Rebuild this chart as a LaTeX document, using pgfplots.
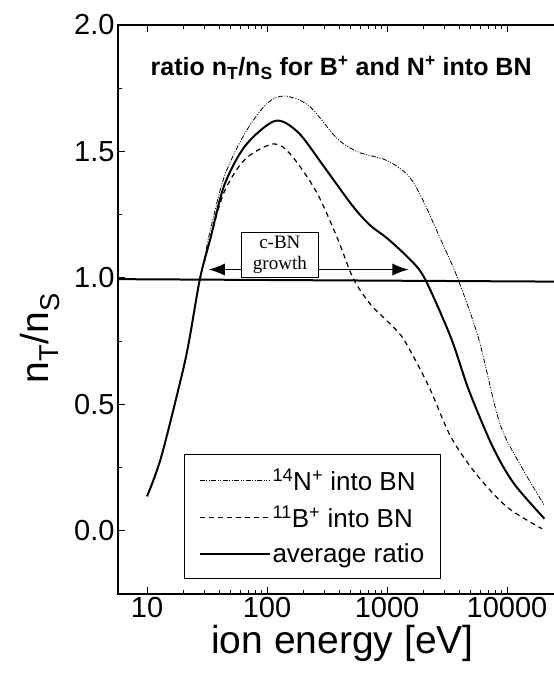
\documentclass[border=0pt]{standalone}
\usepackage{fontspec}
\setmainfont{Liberation Sans}
\newfontfamily\serifbox{Liberation Serif}
\usepackage{pgfplots}
\pgfplotsset{compat=1.18}
\usetikzlibrary{arrows.meta,calc}

% values (energy in eV, ratio n_T/n_S)
\pgfplotstableread{
E      r
30     1.07
33     1.17
44     1.40
66     1.575
100    1.69
141    1.719
224    1.68
386    1.55
580    1.497
1000   1.464
1500   1.405
1960   1.314
2770   1.157
3870   1.0
5800   0.76
8700   0.425
13200  0.253
20500  0.10
}\nitrogen
\pgfplotstableread{
E      r
30     1.06
33     1.14
44     1.34
66     1.47
114    1.53
160    1.484
258    1.34
386    1.157
520    1.0
715    0.90
1000   0.83
1320   0.77
1700   0.68
2300   0.557
3400   0.372
5500   0.226
10000  0.094
19600  0.008
}\boron
\pgfplotstableread{
E      r
10     0.136
13.1   0.29
19.6   0.62
22.5   0.755
27.7   1.0
33.8   1.157
44     1.366
66     1.523
117    1.621
182    1.575
294    1.444
510    1.288
715    1.21
1000   1.157
1500   1.08
2050   1.0
3400   0.765
4800   0.557
7600   0.332
11400  0.187
20500  0.048
}\average

\begin{document}
\begin{tikzpicture}
\begin{axis}[
  scale only axis,
  width=449pt, height=569pt,
  xmode=log, xmin=5.73, xmax=31623,
  ymin=-0.25, ymax=2.0,
  clip=false,
  xtick={10,100,1000,10000},
  xticklabels={10,100,1000,10000},
  ytick={0,0.5,1,1.5,2},
  minor ytick={-0.25,0.25,0.75,1.25,1.75},
  yticklabel style={/pgf/number format/.cd, fixed, fixed zerofill, precision=1},
  /pgf/number format/assume math mode=true,
  tick label style={font=\fontsize{29}{30}\selectfont},
  label style={font=\fontsize{39}{40}\selectfont},
  xlabel={ion energy [eV]},
  ylabel={n\textsubscript{T}/n\textsubscript{S}},
  ylabel style={at={(rel axis cs:0,0.45)}, anchor=center, yshift=78pt},
  axis line style={line width=1.5pt},
  major tick length=7pt, minor tick length=4pt,
  tick style={line width=0.8pt, black},
  legend style={at={(0.147,0.026)}, anchor=south west, draw=black, line width=1pt,
    font=\fontsize{26}{28}\selectfont, inner xsep=14pt, inner ysep=13pt, row sep=10pt},
  legend cell align=left,
  legend image code/.code={\draw[#1] (0pt,0pt) -- (70pt,0pt);},
  ]
  \addplot[black, line width=0.8pt, smooth, dash pattern=on 5pt off 1.5pt on 1pt off 1.5pt on 1pt off 1.5pt] table[x=E, y=r] {\nitrogen};
  \addlegendentry{\textsuperscript{14}N\textsuperscript{+} into BN}
  \addplot[black, line width=1.2pt, smooth, dash pattern=on 5pt off 4pt] table[x=E, y=r] {\boron};
  \addlegendentry{\textsuperscript{11}B\textsuperscript{+} into BN}
  \addplot[black, line width=2pt, smooth] table[x=E, y=r] {\average};
  \addlegendentry{average ratio}

  \draw[line width=1pt, {Latex[length=16pt,width=12pt]}-{Latex[length=16pt,width=12pt]}]
    (axis cs:32.7,1.033) -- (axis cs:1510,1.033);
  \node[draw, fill=white, line width=1pt, align=center, minimum width=77pt, minimum height=45pt,
    inner sep=1pt, font=\serifbox\fontsize{19}{21}\selectfont] at (axis cs:128,1.09) {c-BN\\growth};
  \addplot[black, line width=2pt, forget plot] coordinates {(5.73,0.995) (31623,0.985)};

  \node[font=\bfseries\fontsize{25}{28}\selectfont] at (rel axis cs:0.497,0.924)
    {ratio n\textsubscript{T}/n\textsubscript{S} for B\textsuperscript{+} and N\textsuperscript{+} into BN};

  \coordinate (sw) at (rel axis cs:0,0);
  \coordinate (nw) at (rel axis cs:0,1);
\end{axis}
\pgfresetboundingbox
\path[use as bounding box] ($(sw)+(-118pt,-86pt)$) rectangle ($(nw)+(436pt,25pt)$);
\end{tikzpicture}
\end{document}
